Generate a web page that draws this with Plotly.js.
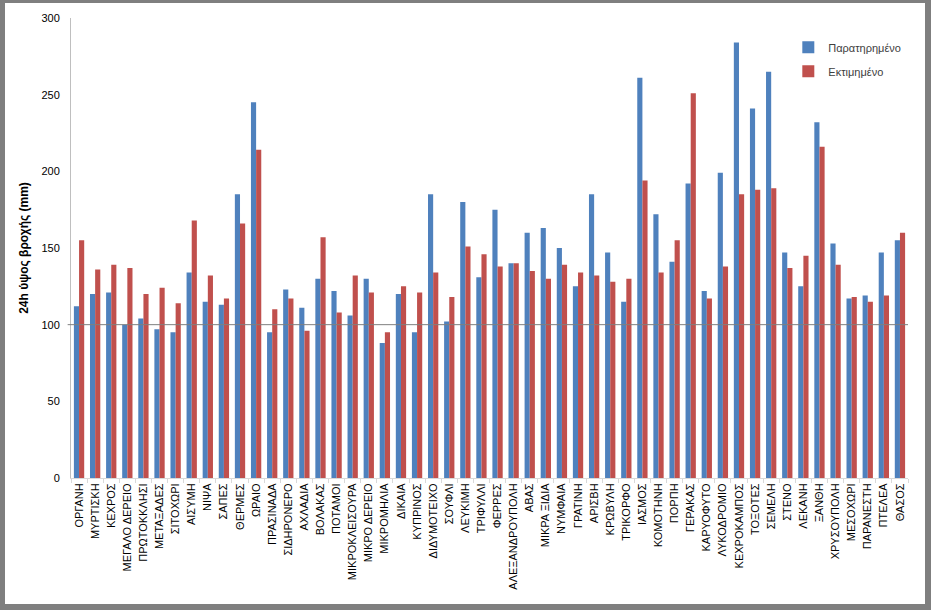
<!DOCTYPE html>
<html><head><meta charset="utf-8">
<script src="https://cdn.plot.ly/plotly-3.0.1.min.js"></script>
<style>
html,body{margin:0;padding:0;background:#7f7f7f;width:931px;height:610px;overflow:hidden;}
#chart{position:absolute;left:5px;top:3px;width:920px;height:601px;background:#fff;}
</style></head><body>
<div id="chart"></div>
<script>
const stations = ["ΟΡΓΑΝΗ","ΜΥΡΤΙΣΚΗ","ΚΕΧΡΟΣ","ΜΕΓΑΛΟ ΔΕΡΕΙΟ","ΠΡΩΤΟΚΚΛΗΣΙ","ΜΕΤΑΞΑΔΕΣ","ΣΙΤΟΧΩΡΙ","ΑΙΣΥΜΗ","ΝΙΨΑ","ΣΑΠΕΣ","ΘΕΡΜΕΣ","ΩΡΑΙΟ","ΠΡΑΣΙΝΑΔΑ","ΣΙΔΗΡΟΝΕΡΟ","ΑΧΛΑΔΙΑ","ΒΟΛΑΚΑΣ","ΠΟΤΑΜΟΙ","ΜΙΚΡΟΚΛΕΙΣΟΥΡΑ","ΜΙΚΡΟ ΔΕΡΕΙΟ","ΜΙΚΡΟΜΗΛΙΑ","ΔΙΚΑΙΑ","ΚΥΠΡΙΝΟΣ","ΔΙΔΥΜΟΤΕΙΧΟ","ΣΟΥΦΛΙ","ΛΕΥΚΙΜΗ","ΤΡΙΦΥΛΛΙ","ΦΕΡΡΕΣ","ΑΛΕΞΑΝΔΡΟΥΠΟΛΗ","ΑΒΑΣ","ΜΙΚΡΑ ΞΙΔΙΑ","ΝΥΜΦΑΙΑ","ΓΡΑΤΙΝΗ","ΑΡΙΣΒΗ","ΚΡΩΒΥΛΗ","ΤΡΙΚΟΡΦΟ","ΙΑΣΜΟΣ","ΚΟΜΟΤΗΝΗ","ΠΟΡΠΗ","ΓΕΡΑΚΑΣ","ΚΑΡΥΟΦΥΤΟ","ΛΥΚΟΔΡΟΜΙΟ","ΚΕΧΡΟΚΑΜΠΟΣ","ΤΟΞΟΤΕΣ","ΣΕΜΕΛΗ","ΣΤΕΝΟ","ΛΕΚΑΝΗ","ΞΑΝΘΗ","ΧΡΥΣΟΥΠΟΛΗ","ΜΕΣΟΧΩΡΙ","ΠΑΡΑΝΕΣΤΗ","ΠΤΕΛΕΑ","ΘΑΣΟΣ"];
const observed = [112,120,121,100,104,97,95,134,115,113,185,245,95,123,111,130,122,106,130,88,120,95,185,102,180,131,175,140,160,163,150,125,185,147,115,261,172,141,192,122,199,284,241,265,147,125,232,153,117,119,147,155];
const estimated = [155,136,139,137,120,124,114,168,132,117,166,214,110,117,96,157,108,132,121,95,125,121,134,118,151,146,138,140,135,130,139,134,132,128,130,194,134,155,251,117,138,185,188,189,137,145,216,139,118,115,119,160];
const yTicks = [0,50,100,150,200,250,300];
const refLevel = 100;

const data = [
  {type:'bar', name:'Παρατηρημένο', x:stations, y:observed, marker:{color:'#4F81BD'}, legendgroup:'a'},
  {type:'bar', name:'Εκτιμημένο', x:stations, y:estimated, marker:{color:'#C0504D'}, legendgroup:'b'}
];
const layout = {
  width:920, height:601,
  margin:{l:66, r:17, t:15, b:126},
  paper_bgcolor:'#ffffff', plot_bgcolor:'#ffffff',
  font:{family:'Liberation Sans, Arial, sans-serif', size:11, color:'#000'},
  barmode:'group', bargap:0.36, bargroupgap:0,
  showlegend:true,
  legend:{x:0.857, y:0.968, xanchor:'left', yanchor:'top', bgcolor:'rgba(0,0,0,0)',
          font:{size:11, color:'#404040'}, traceorder:'grouped', tracegroupgap:5},
  xaxis:{type:'category', tickangle:-90, showgrid:false, showline:true, linecolor:'#d9d9d9',
         ticks:'outside', tickson:'boundaries', ticklen:4, tickcolor:'#d9d9d9',
         tickfont:{size:11, color:'#000'}, zeroline:false, fixedrange:true},
  yaxis:{range:[0,300], tickvals:yTicks, showgrid:false, showline:true, linecolor:'#bfbfbf',
         ticks:'', zeroline:false, ticklabelstandoff:8,
         tickfont:{size:11, color:'#000'},
         title:{text:'<b>24h ύψος βροχής (mm)</b>', font:{size:12, color:'#000'}, standoff:10}},
  shapes:[{type:'line', xref:'paper', yref:'y', x0:-0.004, x1:1, y0:refLevel, y1:refLevel,
           line:{color:'#7f7f7f', width:1}}]
};
Plotly.newPlot('chart', data, layout, {displayModeBar:false, staticPlot:true});
</script>
</body></html>
